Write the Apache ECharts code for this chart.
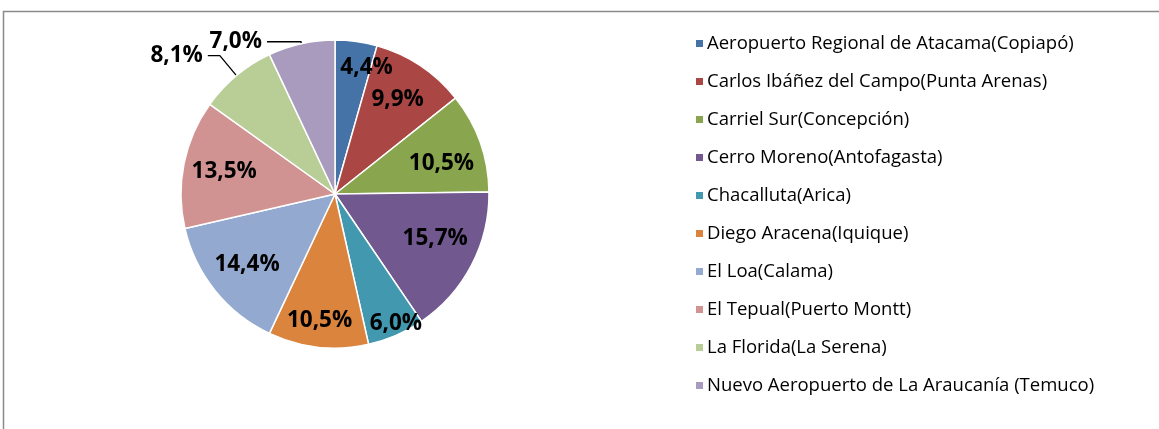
<!DOCTYPE html>
<html>
<head>
<meta charset="utf-8">
<script src="https://cdn.jsdelivr.net/npm/echarts@6/dist/echarts.min.js"></script>
<style>
  html, body { margin: 0; padding: 0; background: #fff; }
  #chart { width: 1159px; height: 429px; }
</style>
</head>
<body>
<div id="chart"></div>
<script>
// aeropuertos (leyenda)
const airports = [
  'Aeropuerto Regional de Atacama(Copiapó)',
  'Carlos Ibáñez del Campo(Punta Arenas)',
  'Carriel Sur(Concepción)',
  'Cerro Moreno(Antofagasta)',
  'Chacalluta(Arica)',
  'Diego Aracena(Iquique)',
  'El Loa(Calama)',
  'El Tepual(Puerto Montt)',
  'La Florida(La Serena)',
  'Nuevo Aeropuerto de La Araucanía (Temuco)'
];
// porcentajes
const shares = [4.4, 9.9, 10.5, 15.7, 6.0, 10.5, 14.4, 13.5, 8.1, 7.0];
const colors = ['#4572A7', '#AA4643', '#89A54E', '#71588F', '#4198AF',
                '#DB843D', '#93A9CF', '#D19392', '#B9CD96', '#A99BBD'];

// etiquetas fuera del gráfico (con línea guía)
const outsideIdx = [8, 9];
const leader = { 8: [26, 12], 9: [2, 34] };
// pequeños ajustes de etiqueta (estilo, no datos)
const nudge = { 0: [16, -14], 4: [16, 26], 5: [-3, 14], 3: [0, -8], 2: [0, 8] };

const fmt = v => v.toFixed(1).replace('.', ',') + '%';
const labelFont = { fontFamily: 'Open Sans', fontWeight: 'bold', fontSize: 22.5, color: '#000' };

const mainData = shares.map((v, i) => {
  const d = { name: airports[i], value: v, itemStyle: { color: colors[i] } };
  if (outsideIdx.includes(i)) {
    d.label = { show: true, position: 'outside', formatter: fmt(v), ...labelFont };
    d.labelLine = { show: true, length: leader[i][0], length2: leader[i][1], lineStyle: { color: '#000', width: 1.3 } };
  }
  return d;
});

const ringData = shares.map((v, i) => {
  const d = { name: airports[i], value: v };
  if (outsideIdx.includes(i)) d.label = { show: false };
  else if (nudge[i]) d.label = { offset: nudge[i] };
  return d;
});

const chart = echarts.init(document.getElementById('chart'));
chart.setOption({
  animation: false,
  color: colors,
  graphic: [{
    type: 'rect',
    shape: { x: 3.5, y: 11.5, width: 1300, height: 600 },
    style: { fill: 'none', stroke: '#8a8a8a', lineWidth: 1.5 },
    silent: true
  }],
  legend: {
    orient: 'vertical',
    left: 689,
    top: 28,
    icon: 'rect',
    itemWidth: 9,
    itemHeight: 9,
    itemGap: 17,
    textStyle: { fontFamily: 'Open Sans', fontSize: 18.5, color: '#000', lineHeight: 21, padding: [0, 0, 0, -2] },
    data: airports
  },
  series: [
    {
      type: 'pie',
      center: [335, 194],
      radius: 154,
      startAngle: 90,
      clockwise: true,
      avoidLabelOverlap: false,
      silent: true,
      itemStyle: { borderColor: '#fff', borderWidth: 1.5 },
      label: { show: false },
      labelLine: { show: false },
      data: mainData
    },
    {
      type: 'pie',
      center: [335, 194],
      radius: [66, 154],
      startAngle: 90,
      clockwise: true,
      avoidLabelOverlap: false,
      silent: true,
      itemStyle: { color: 'rgba(0,0,0,0)' },
      label: {
        show: true,
        position: 'inside',
        formatter: p => fmt(p.value),
        ...labelFont
      },
      labelLine: { show: false },
      data: ringData
    }
  ]
});
</script>
</body>
</html>
